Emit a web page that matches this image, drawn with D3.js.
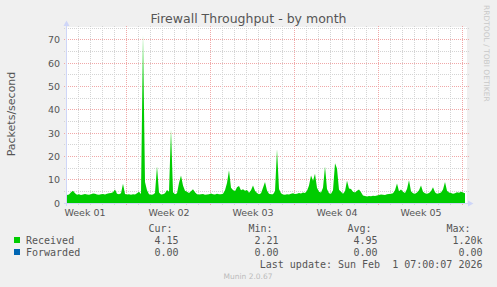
<!DOCTYPE html>
<html><head><meta charset="utf-8">
<script src="https://cdn.jsdelivr.net/npm/d3@7"></script>
<style>
body{margin:0;background:#f0f0f0;}
svg{display:block;}
text{font-family:"DejaVu Sans",sans-serif;}
.mono{font-family:"DejaVu Sans Mono",monospace;}
</style>
</head><body><svg id="c" width="497" height="287"></svg>
<script>
// ---- data ----
const chartTitle = "Firewall Throughput - by month";
const yAxisLabel = "Packets/second";
const yTicks = [0, 10, 20, 30, 40, 50, 60, 70];
const weekLabels = ["Week 01", "Week 02", "Week 03", "Week 04", "Week 05"];
const weekStartHours = [119, 287, 455, 623, 791];   // hours since graph start
const spanHours = 800;
const stepHours = 4;
const received = [
 3.4,3.6,4.6,5.3,4.2,3.5,3.8,3.4,3.6,3.9,
 3.6,3.5,3.8,4.1,4.0,3.6,3.5,3.7,3.9,3.6,
 4.0,4.2,4.3,4.6,5.8,4.0,3.8,4.2,8.2,3.9,
 3.6,3.7,3.5,3.8,3.6,4.2,4.8,3.9,72,9.0,
 5.5,3.8,3.5,3.6,4.3,15.8,4.5,3.6,3.8,4.2,
 5.6,4.8,31.5,4.6,3.8,4.2,8.6,11.8,7.5,5.2,
 4.8,4.3,5.0,5.9,4.6,3.8,3.6,3.7,3.9,3.5,
 3.6,3.8,4.1,3.7,3.6,4.0,3.8,3.7,4.0,5.5,
 8.6,14.0,6.5,5.6,5.0,6.7,7.3,5.5,5.9,5.2,
 5.6,4.4,5.5,7.5,5.2,4.3,3.8,4.2,6.5,9.0,
 5.4,4.0,3.7,3.8,5.0,23.0,6.0,4.2,3.6,3.5,
 3.8,3.6,4.0,4.2,3.9,4.0,4.3,4.1,4.5,4.3,
 5.2,7.5,11.8,9.5,12.5,6.5,4.8,4.5,6.5,15.6,
 6.0,4.2,4.0,5.5,17.0,14.8,5.7,4.8,4.0,5.0,
 9.5,6.2,6.0,4.8,4.5,5.2,5.8,4.6,3.2,3.0,
 2.8,3.0,2.9,3.1,3.0,3.2,3.4,3.6,3.5,3.4,
 3.7,3.9,4.0,4.2,5.5,8.4,5.0,5.8,4.8,4.3,
 6.0,9.8,5.0,4.2,4.0,4.5,5.5,7.5,4.8,4.2,
 4.0,4.3,5.0,6.8,4.6,4.0,4.2,4.5,5.8,9.0,
 5.2,4.5,4.3,4.0,4.2,4.6,4.4,4.8,4.5,4.15
];
const legendNames = ["Received", "Forwarded"];
const legendColors = ["#00cc00", "#0066b3"];
const legendHeads = ["Cur:", "Min:", "Avg:", "Max:"];
const legendCur = ["4.15", "0.00"];
const legendMin = ["2.21", "0.00"];
const legendAvg = ["4.95", "0.00"];
const legendMax = ["1.20k", "0.00"];
const lastUpdate = "Last update: Sun Feb  1 07:00:07 2026";
const footer = "Munin 2.0.67";
const sideText = "RRDTOOL / TOBI OETIKER";

// ---- drawing ----
const svg = d3.select("#c");
const x = d3.scaleLinear().domain([0, spanHours]).range([67, 467]);
const y = d3.scaleLinear().domain([0, 75]).range([203, 28]);
const px = v => Math.round(v) + 0.5;

svg.append("rect").attr("width", 497).attr("height", 287).attr("fill", "#f0f0f0");
svg.append("rect").attr("x", 67).attr("y", 27).attr("width", 400).attr("height", 176).attr("fill", "#fff");

// grid
const gGrid = svg.append("g");
const minorY = d3.range(5, 76, 5);
gGrid.selectAll("line.hy").data(minorY).join("line")
  .attr("x1", 64).attr("x2", 470)
  .attr("y1", d => px(y(d) - 0.5)).attr("y2", d => px(y(d) - 0.5))
  .attr("stroke", d => d % 10 === 0 ? "#f0a8a8" : "#d4d4d4")
  .attr("stroke-dasharray", "1,1");
const dayHours = [];
for (let h = weekStartHours[0] % 24; h <= spanHours; h += 24) dayHours.push(h);
gGrid.selectAll("line.vx").data(dayHours).join("line")
  .attr("y1", 26).attr("y2", 206)
  .attr("x1", d => px(x(d) - 0.5)).attr("x2", d => px(x(d) - 0.5))
  .attr("stroke", d => weekStartHours.includes(d) ? "#f0a8a8" : "#d4d4d4")
  .attr("stroke-dasharray", "1,1");

// area
const pts = received.map((v, i) => ({h: i * stepHours, v}));
svg.append("clipPath").attr("id", "cp").append("rect")
  .attr("x", 67).attr("y", 28).attr("width", 400).attr("height", 175);
svg.append("path").datum(pts)
  .attr("clip-path", "url(#cp)")
  .attr("fill", legendColors[0])
  .attr("d", d3.area().x(d => x(d.h)).y0(y(0)).y1(d => y(d.v)).curve(d3.curveLinear));

// axes lines + arrows
const axisCol = "#cfd6f8";
svg.append("line").attr("x1", 64).attr("x2", 470).attr("y1", 203.5).attr("y2", 203.5).attr("stroke", axisCol);
svg.append("line").attr("x1", 66.5).attr("x2", 66.5).attr("y1", 206).attr("y2", 24).attr("stroke", axisCol);
svg.append("path").attr("d", "M468,200.5 L473.5,203.5 L468,206.5 Z").attr("fill", axisCol);
svg.append("path").attr("d", "M63.5,26 L66.5,20.5 L69.5,26 Z").attr("fill", axisCol);

// y tick labels
const yAx = svg.append("g").attr("transform", "translate(67,0)")
  .call(d3.axisLeft(y).tickValues(yTicks).tickSize(0).tickPadding(7));
yAx.select(".domain").remove();
yAx.selectAll("text").attr("font-family", "DejaVu Sans").attr("font-size", 9.5).attr("fill", "#555");

// x tick labels
const weekCenters = weekStartHours.map(h => h - 84);
const xAx = svg.append("g").attr("transform", "translate(0,203)")
  .call(d3.axisBottom(x).tickValues(weekCenters).tickFormat((d, i) => weekLabels[i]).tickSize(0).tickPadding(6));
xAx.select(".domain").remove();
xAx.selectAll("text").attr("font-family", "DejaVu Sans").attr("font-size", 9.5).attr("fill", "#555");

// titles
svg.append("text").attr("x", 248.5).attr("y", 22.5).attr("text-anchor", "middle")
  .attr("font-size", 12.5).attr("fill", "#555").text(chartTitle);
svg.append("text").attr("transform", "translate(14.5,114) rotate(-90)").attr("text-anchor", "middle")
  .attr("font-size", 11).attr("fill", "#555").text(yAxisLabel);
svg.append("text").attr("transform", "translate(484,5) rotate(90)")
  .attr("font-size", 7.5).attr("fill", "#c8c8c8").text(sideText);

// legend
const lg = svg.append("g").attr("class", "mono").attr("font-size", 10).attr("fill", "#555");
const colEnds = [172.5, 272.5, 371.5, 470.5];
const valEnds = [178.5, 278.5, 377.5, 482.5];
lg.selectAll("text.h").data(legendHeads).join("text")
  .attr("class", "mono").attr("x", (d, i) => colEnds[i]).attr("y", 231.5)
  .attr("text-anchor", "end").text(d => d);
const cols = [legendCur, legendMin, legendAvg, legendMax];
legendNames.forEach((n, r) => {
  const yy = 243.5 + r * 12;
  lg.append("rect").attr("x", 14).attr("y", yy - 6.5).attr("width", 6).attr("height", 6).attr("fill", legendColors[r]);
  lg.append("text").attr("class", "mono").attr("x", 26).attr("y", yy).text(n);
  cols.forEach((c, j) => {
    lg.append("text").attr("class", "mono").attr("x", valEnds[j]).attr("y", yy)
      .attr("text-anchor", "end").text(c[r]);
  });
});
lg.append("text").attr("class", "mono").attr("x", 482.5).attr("y", 267.5)
  .attr("text-anchor", "end").attr("xml:space", "preserve").style("white-space", "pre").text(lastUpdate);
svg.append("text").attr("x", 248).attr("y", 279).attr("text-anchor", "middle")
  .attr("font-size", 7.5).attr("fill", "#bbb").text(footer);
</script>
</body></html>
